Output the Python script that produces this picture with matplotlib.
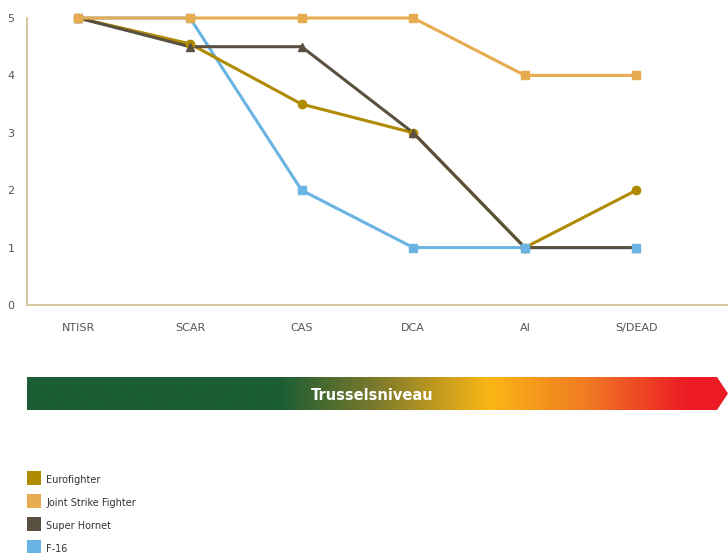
import matplotlib
matplotlib.use("Agg")
import matplotlib.pyplot as plt
from matplotlib.colors import LinearSegmentedColormap
from matplotlib.patches import Polygon, Rectangle
import numpy as np

categories = ["NTISR", "SCAR", "CAS", "DCA", "AI", "S/DEAD"]
series_names = ["Eurofighter", "Joint Strike Fighter", "Super Hornet", "F-16"]
eurofighter = [5, 4.55, 3.5, 3, 1, 2]
jsf = [5, 5, 5, 5, 4, 4]
super_hornet = [5, 4.5, 4.5, 3, 1, 1]
f16 = [5, 5, 2, 1, 1, 1]
y_ticks = [0, 1, 2, 3, 4, 5]
bar_label = "Trusselsniveau"

colors = {"Eurofighter": "#b08a00", "Joint Strike Fighter": "#e8ac50",
          "Super Hornet": "#5a5040", "F-16": "#6ab4e4"}
markers = {"Eurofighter": "o", "Joint Strike Fighter": "s",
           "Super Hornet": "^", "F-16": "s"}
values = {"Eurofighter": eurofighter, "Joint Strike Fighter": jsf,
          "Super Hornet": super_hornet, "F-16": f16}
# marker stacking: F-16 above the dark lines, JSF above everything
marker_z = {"Eurofighter": 3, "Super Hornet": 3, "F-16": 4, "Joint Strike Fighter": 5}

W, H = 728, 553
fig = plt.figure(figsize=(W / 100, H / 100), dpi=100)

# main line chart
ax = fig.add_axes([27 / W, 1 - 305 / H, (W - 27) / W, (305 - 18) / H])
x = np.arange(len(categories))
for name in ["F-16", "Eurofighter", "Super Hornet", "Joint Strike Fighter"]:
    ax.plot(x, values[name], color=colors[name], linewidth=2.2, clip_on=False, zorder=2)
    ax.plot(x, values[name], color=colors[name], marker=markers[name], markersize=6,
            linestyle="none", clip_on=False, zorder=marker_z[name], label=name)

ax.set_xlim(-0.46, 5.82)
ax.set_ylim(0, 5)
ax.set_xticks(x)
ax.set_xticklabels(categories)
ax.set_yticks(y_ticks)
ax.tick_params(length=0, labelsize=8, colors="#555555", pad=13)
ax.tick_params(axis="y", pad=9)
for side in ["top", "right"]:
    ax.spines[side].set_visible(False)
for side in ["left", "bottom"]:
    ax.spines[side].set_color("#cfc08e")
    ax.spines[side].set_linewidth(1.2)

# threat level arrow bar
bax = fig.add_axes([0, 0, 1, 1])
bax.set_xlim(0, W)
bax.set_ylim(H, 0)
bax.axis("off")
cmap = LinearSegmentedColormap.from_list("threat", [
    (0.0, "#1b5e34"), (0.36, "#1b5e34"), (0.50, "#7d7a2c"),
    (0.66, "#fbb614"), (0.80, "#f07a24"), (0.94, "#ed1c24"), (1.0, "#ed1c24")])
grad = np.linspace(0, 1, 512).reshape(1, -1)
img = bax.imshow(grad, cmap=cmap, aspect="auto", extent=[27, 728, 410, 377])
arrow = Polygon([[27, 377], [717, 377], [728, 393.5], [717, 410], [27, 410]],
                closed=True, transform=bax.transData, facecolor="none", edgecolor="none")
bax.add_patch(arrow)
img.set_clip_path(arrow)
bax.text(372, 395, bar_label, color="white", fontsize=10.5, fontweight="bold",
         ha="center", va="center")

# legend
for i, name in enumerate(series_names):
    yc = 478 + i * 23
    bax.add_patch(Rectangle((27, yc - 7), 14, 14, facecolor=colors[name], edgecolor="none"))
    bax.text(46, yc + 2, name, fontsize=7, color="#333333", va="center")

fig.savefig("out.png", dpi=100)
